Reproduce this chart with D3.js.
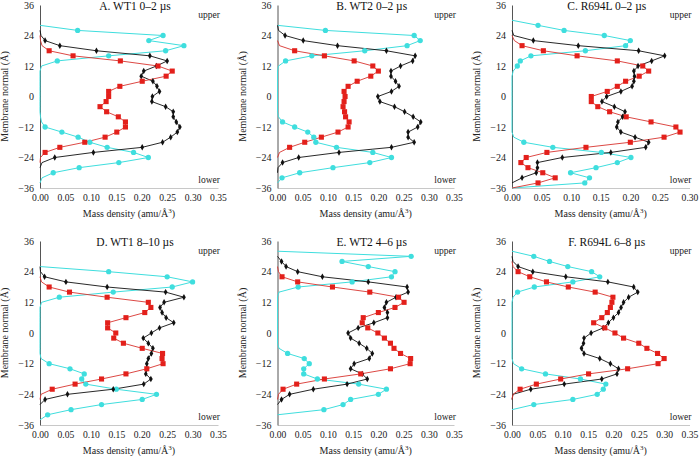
<!DOCTYPE html>
<html><head><meta charset="utf-8">
<script src="https://cdn.jsdelivr.net/npm/d3@7"></script>
<style>
html,body{margin:0;padding:0;background:#fff;}
svg{display:block;}
svg text{font-family:"Liberation Serif","Times New Roman",serif !important;}
</style></head>
<body><svg id="c" width="699" height="456"></svg>
<script>
const _ = null;
// membrane normal positions (Å), top to bottom
const normal = [36,34,32,30,28,26,24,22,20, 18,16,14,12,10,8,6,4,2, 0,-2,-4,-6,-8,-10,-12,-14,-16, -18,-20,-22,-24,-26,-28,-30,-32,-34,-36];
const yTicks = [36,24,12,0,-12,-24,-36];
const titles = ["A. WT1 0–2 µs","B. WT2 0–2 µs","C. R694L 0–2 µs","D. WT1 8–10 µs","E. WT2 4–6 µs","F. R694L 6–8 µs"];
const xMax = [0.35,0.35,0.30,0.35,0.35,0.35];

const blackA = [_,_,_,_,_,0,0.002,0.010,0.039, 0.111,0.216,0.250,0.229,0.204,0.199,0.222,0.230,0.235, 0.221,0.220,0.247,0.262,0.262,0.268,0.275,0.270,0.257, 0.241,0.201,0.105,0.029,0.004,0,_,_,_,_];
const redA   = [_,_,_,_,_,_,0,0.001,0.004, 0.018,0.065,0.158,0.232,0.260,0.248,0.201,0.157,0.135, 0.135,0.130,0.118,0.131,0.154,0.168,0.168,0.151,0.128, 0.088,0.039,0.010,0.001,0,_,_,_,_,_];
const cyanA  = [_,_,_,_,0,0.074,0.242,0.214,0.283, 0.247,0.135,0.034,0.003,0,0,0,0,0, 0,0,0,0,0.001,0.003,0.010,0.043,0.075, 0.098,0.132,0.184,0.213,0.155,0.077,0.026,0.004,0,_];

const blackB = [_,_,_,_,0,0.002,0.015,0.051,0.119, 0.216,0.273,0.268,0.244,0.225,0.225,0.234,0.241,0.226, 0.199,0.203,0.232,0.252,0.269,0.284,0.278,0.259,0.259, 0.271,0.226,0.122,0.042,0.010,0.001,0,_,_,_];
const redB   = [_,_,_,_,_,_,_,0,0.004, 0.034,0.093,0.152,0.189,0.200,0.185,0.158,0.140,0.132, 0.134,0.132,0.130,0.133,0.135,0.142,0.140,0.120,0.087, 0.054,0.024,0.004,0,_,_,_,_,_,_];
const cyanB  = [_,_,_,_,0,0.095,0.271,0.283,0.257, 0.173,0.068,0.016,0.002,0,0,0,0,0, 0,0,0,0,0.002,0.010,0.034,0.060,0.072, 0.076,0.117,0.189,0.226,0.183,0.110,0.044,0.009,0,_];

const blackC = [_,_,_,_,_,0,0.003,0.036,0.112, 0.214,0.258,0.236,0.213,0.206,0.207,0.206,0.203,0.184, 0.160,0.152,0.173,0.191,0.187,0.179,0.177,0.184,0.208, 0.231,0.226,0.167,0.085,0.043,0.043,0.041,0.017,0,_];
const redC   = [_,_,_,_,_,_,0,0.004,0.017, 0.053,0.110,0.178,0.221,0.231,0.215,0.192,0.178,0.161, 0.134,0.134,0.145,0.165,0.193,0.235,0.277,0.284,0.257, 0.200,0.125,0.059,0.024,0.015,0.027,0.052,0.073,0.044,0];
const cyanC  = [_,_,_,0,0.044,0.088,0.156,0.200,0.192, 0.124,0.032,0.014,0.009,0.002,0,0,0,0, 0,0,0,0,0,0,0,0,0.003, 0.020,0.069,0.151,0.201,0.178,0.142,0.099,0.131,0.123,0];

const blackD = [_,_,_,_,_,0,0.001,0.009,0.051, 0.132,0.247,0.283,0.244,0.236,0.240,0.248,0.263,0.235, 0.219,0.203,0.213,0.222,0.219,0.213,0.210,0.210,0.208, 0.218,0.204,0.144,0.054,0.010,0,_,_,_,_];
const redD   = [_,_,_,_,_,_,_,0,0.003, 0.018,0.058,0.132,0.213,0.218,0.206,0.169,0.133,0.133, 0.149,0.145,0.164,0.201,0.241,0.240,0.242,0.210,0.169, 0.121,0.069,0.024,0.002,0,_,_,_,_,_];
const cyanD  = [_,_,_,_,_,0,0.135,0.250,0.300, 0.260,0.144,0.038,0.003,0,0,0,0,0, 0,0,0,0,0,0.002,0.018,0.059,0.087, 0.082,0.090,0.150,0.229,0.201,0.121,0.061,0.015,0,_];

const blackE = [_,_,_,0,0.008,0.017,0.040,0.089,0.180, 0.257,0.259,0.235,0.216,0.212,0.218,0.218,0.191,0.160, 0.140,0.145,0.162,0.177,0.188,0.182,0.152,0.145,0.168, 0.178,0.138,0.071,0.024,0.008,0,_,_,_,_];
const redE   = [_,_,_,_,_,0,0.002,0.009,0.040, 0.109,0.183,0.240,0.251,0.233,0.200,0.170,0.168,0.179, 0.199,0.212,0.224,0.231,0.244,0.264,0.263,0.224,0.165, 0.093,0.038,0.011,0.002,0,_,_,_,_,_];
const cyanE  = [_,_,0,0.265,0.128,0.180,0.233,0.226,0.148, 0.041,0.003,0,0,0,0,0,0,0, 0,0,0,0.003,0.020,0.053,0.063,0.052,0.052, 0.079,0.161,0.216,0.200,0.145,0.130,0.092,0,_,_];

const blackF = [_,_,_,0,0.002,0.012,0.041,0.106,0.189, 0.240,0.248,0.230,0.220,0.215,0.210,0.200,0.190,0.180, 0.156,0.142,0.141,0.137,0.142,0.173,0.194,0.210,0.207, 0.177,0.103,0.037,0.002,0,_,_,_,_,_];
const redF   = [_,_,_,_,0,0.002,0.012,0.035,0.068, 0.111,0.164,0.199,0.197,0.194,0.188,0.177,0.161,0.183, 0.203,0.220,0.250,0.266,0.287,0.300,0.288,0.228,0.151, 0.096,0.048,0.016,0.002,0,_,_,_,_,_];
const cyanF  = [_,_,0,0.043,0.074,0.110,0.157,0.173,0.120, 0.044,0.011,0.002,0,0,0,0,0,0, 0,0,0,0,0,0,0.003,0.019,0.066, 0.135,0.185,0.180,0.168,0.120,0.043,0,_,_,_];

const panelSeries = [
  {cyan:cyanA, black:blackA, red:redA},
  {cyan:cyanB, black:blackB, red:redB},
  {cyan:cyanC, black:blackC, red:redC},
  {cyan:cyanD, black:blackD, red:redD},
  {cyan:cyanE, black:blackE, red:redE},
  {cyan:cyanF, black:blackF, red:redF}
];

// layout
const colLeft = [40, 277.5, 512];
const colRight = [218, 454, 689.5];
const rowTop = [5, 241];
const rowBottom = [188, 425];

const style = {
  cyan:  {stroke:"#3fdede", fill:"#3fdede", sym:d3.symbolCircle, size:22, w:1},
  black: {stroke:"#111111", fill:"#111111", sym:d3.symbolDiamond, size:12, w:0.9},
  red:   {stroke:"#d8332f", fill:"#e3201b", sym:d3.symbolSquare, size:26, w:0.9}
};

const svg = d3.select("#c");

panelSeries.forEach((ps, i) => {
  const col = i % 3, row = Math.floor(i / 3);
  const x = d3.scaleLinear().domain([0, xMax[i]]).range([colLeft[col], colRight[col]]);
  const y = d3.scaleLinear().domain([-36, 36]).range([rowBottom[row], rowTop[row]]);
  const g = svg.append("g");

  // x axis
  const xt = d3.range(0, xMax[i] + 1e-9, 0.05);
  const xa = g.append("g").attr("transform", `translate(0,${rowBottom[row]})`)
    .call(d3.axisBottom(x).tickValues(xt).tickFormat(d3.format(".2f")).tickSize(0).tickPadding(6.5));
  xa.attr("font-family", "Liberation Serif");
  xa.select(".domain").attr("stroke", "#c8c8c8");
  xa.selectAll("text").attr("font-size", 9.6).attr("fill", "#222");

  // y axis
  const ya = g.append("g").attr("transform", `translate(${colLeft[col]},0)`)
    .call(d3.axisLeft(y).tickValues(yTicks).tickSize(0).tickPadding(6));
  ya.attr("font-family", "Liberation Serif");
  ya.select(".domain").attr("stroke", "#555");
  ya.selectAll("text").attr("font-size", 10).attr("fill", "#222");

  // axis titles
  const xc = (colLeft[col] + colRight[col]) / 2;
  const xtitle = g.append("text").attr("x", xc).attr("y", rowBottom[row] + 28.5)
    .attr("text-anchor", "middle").attr("font-size", 10).attr("fill", "#222");
  xtitle.append("tspan").text("Mass density (amu/Å");
  xtitle.append("tspan").attr("dy", -4).attr("font-size", 7).text("3");
  xtitle.append("tspan").attr("dy", 4).text(")");

  const yc = (rowTop[row] + rowBottom[row]) / 2;
  g.append("text").attr("transform", `translate(${colLeft[col] - 32},${yc}) rotate(-90)`)
    .attr("text-anchor", "middle").attr("font-size", 10).attr("fill", "#222")
    .text("Membrane normal (Å)");

  // panel title and labels
  g.append("text").attr("x", xc + 6).attr("y", rowTop[row] + 5)
    .attr("text-anchor", "middle").attr("font-size", 11.5).attr("fill", "#111").text(titles[i]);
  g.append("text").attr("x", colRight[col] + 2).attr("y", rowTop[row] + 12.5)
    .attr("text-anchor", "end").attr("font-size", 9.5).attr("fill", "#222").text("upper");
  g.append("text").attr("x", colRight[col] + 2).attr("y", rowBottom[row] - 5.5)
    .attr("text-anchor", "end").attr("font-size", 9.5).attr("fill", "#222").text("lower");

  // series
  ["cyan", "black", "red"].forEach(k => {
    const vals = ps[k];
    const pts = normal.map((n, j) => ({n, v: vals[j]}));
    const line = d3.line().defined(d => d.v !== null).x(d => x(d.v)).y(d => y(d.n));
    g.append("path").datum(pts).attr("d", line).attr("fill", "none")
      .attr("stroke", style[k].stroke).attr("stroke-width", style[k].w);
  });
  ["cyan", "black", "red"].forEach(k => {
    const vals = ps[k];
    const pts = normal.map((n, j) => ({n, v: vals[j]})).filter(d => d.v !== null && d.v > 0.006);
    g.selectAll(null).data(pts).enter().append("path")
      .attr("transform", d => `translate(${x(d.v)},${y(d.n)})`)
      .attr("d", d3.symbol().type(style[k].sym).size(style[k].size))
      .attr("fill", style[k].fill);
  });
});
</script></body></html>
